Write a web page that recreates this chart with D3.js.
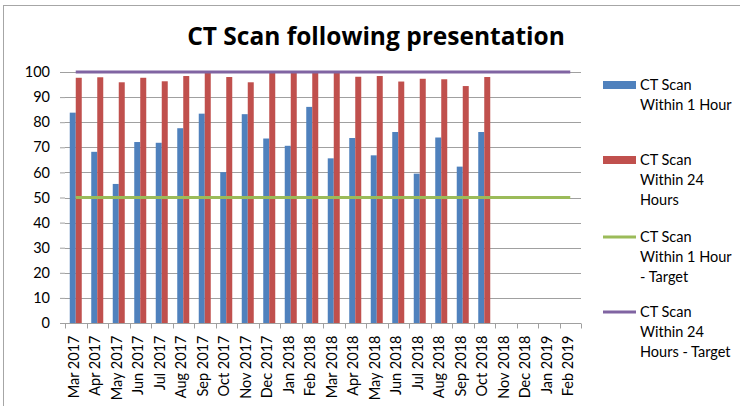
<!DOCTYPE html>
<html>
<head>
<meta charset="utf-8">
<script src="https://cdn.jsdelivr.net/npm/d3@7"></script>
<style>
  body { margin: 0; background: #fff; }
  text { font-family: Lato, "Liberation Sans", sans-serif; fill: #000; }
</style>
</head>
<body>
<div id="chart"></div>
<script>
var svgWidth = 740;
var svgHeight = 406;

// chart data
var months = ["Mar 2017", "Apr 2017", "May 2017", "Jun 2017", "Jul 2017", "Aug 2017",
    "Sep 2017", "Oct 2017", "Nov 2017", "Dec 2017", "Jan 2018", "Feb 2018",
    "Mar 2018", "Apr 2018", "May 2018", "Jun 2018", "Jul 2018", "Aug 2018",
    "Sep 2018", "Oct 2018", "Nov 2018", "Dec 2018", "Jan 2019", "Feb 2019"];
var within1Hour = [83.8, 68.2, 55.4, 72.1, 71.8, 77.6, 83.4, 60.1, 83.2, 73.5, 70.6, 86.1,
    65.6, 73.7, 66.8, 76.1, 59.5, 73.9, 62.3, 76.1, null, null, null, null];
var within24Hours = [97.7, 97.9, 95.9, 97.7, 96.3, 98.4, 100, 98.0, 95.9, 100, 100, 100,
    100, 98.1, 98.4, 96.2, 97.3, 97.1, 94.4, 98.0, null, null, null, null];
var target1Hour = [50, 50, 50, 50, 50, 50, 50, 50, 50, 50, 50, 50,
    50, 50, 50, 50, 50, 50, 50, 50, 50, 50, 50, 50];
var target24Hours = [100, 100, 100, 100, 100, 100, 100, 100, 100, 100, 100, 100,
    100, 100, 100, 100, 100, 100, 100, 100, 100, 100, 100, 100];
var yTicks = [0, 10, 20, 30, 40, 50, 60, 70, 80, 90, 100];

var legendItems = [
    {type: "bar", color: "#4f81bd", lines: ["CT Scan", "Within 1 Hour"]},
    {type: "bar", color: "#c0504d", lines: ["CT Scan", "Within 24", "Hours"]},
    {type: "line", color: "#9bbb59", lines: ["CT Scan", "Within 1 Hour", "- Target"]},
    {type: "line", color: "#8064a2", lines: ["CT Scan", "Within 24", "Hours - Target"]}
];

var plot = {left: 65, right: 581, top: 72, bottom: 323};

var svg = d3.select("#chart")
    .append("svg")
    .attr("width", svgWidth)
    .attr("height", svgHeight);

// outer frame
svg.append("rect")
    .attr("x", 3.5)
    .attr("y", 5.5)
    .attr("width", 800)
    .attr("height", 500)
    .attr("fill", "none")
    .attr("stroke", "#a6a6a6");

svg.append("text")
    .attr("x", 376)
    .attr("y", 45)
    .attr("text-anchor", "middle")
    .attr("font-size", "24.5px")
    .attr("font-weight", "bold")
    .style("font-family", "'Open Sans', sans-serif")
    .text("CT Scan following presentation");

var xScale = d3.scaleBand()
    .domain(months)
    .range([plot.left, plot.right]);

var yScale = d3.scaleLinear()
    .domain([0, 100])
    .range([plot.bottom, plot.top]);

var barWidth = 6;

// gridlines
svg.append("g")
    .selectAll("line")
    .data(yTicks.slice(1))
    .enter()
    .append("line")
    .attr("x1", plot.left)
    .attr("x2", plot.right)
    .attr("y1", d => Math.round(yScale(d)) + 0.5)
    .attr("y2", d => Math.round(yScale(d)) + 0.5)
    .attr("stroke", "#a0a0a0");

// y axis, no domain line
var yAxis = d3.axisLeft(yScale).tickValues(yTicks).tickSize(5).tickPadding(10);
var yG = svg.append("g")
    .attr("transform", `translate(${plot.left}, 0)`)
    .call(yAxis);
yG.select(".domain").remove();
yG.selectAll(".tick line").attr("stroke", "#a0a0a0");
yG.selectAll("text").attr("font-size", "14.5px").attr("font-family", "Lato, sans-serif").attr("fill", "#000");

// bars
svg.append("g")
    .selectAll("rect")
    .data(months.filter((m, i) => within1Hour[i] != null))
    .enter()
    .append("rect")
    .attr("x", d => xScale(d) + xScale.bandwidth() / 2 - barWidth)
    .attr("y", (d, i) => yScale(within1Hour[i]))
    .attr("width", barWidth)
    .attr("height", (d, i) => yScale(0) - yScale(within1Hour[i]))
    .attr("fill", "#4f81bd");

svg.append("g")
    .selectAll("rect")
    .data(months.filter((m, i) => within24Hours[i] != null))
    .enter()
    .append("rect")
    .attr("x", d => xScale(d) + xScale.bandwidth() / 2)
    .attr("y", (d, i) => yScale(within24Hours[i]))
    .attr("width", barWidth)
    .attr("height", (d, i) => yScale(0) - yScale(within24Hours[i]))
    .attr("fill", "#c0504d");

// target lines
var line = d3.line()
    .x((d, i) => xScale(months[i]) + xScale.bandwidth() / 2)
    .y(d => yScale(d));

svg.append("path")
    .datum(target1Hour)
    .attr("d", line)
    .attr("fill", "none")
    .attr("stroke", "#9bbb59")
    .attr("stroke-width", 3);

svg.append("path")
    .datum(target24Hours)
    .attr("d", line)
    .attr("fill", "none")
    .attr("stroke", "#8064a2")
    .attr("stroke-width", 3);

// x axis with ticks between categories
var xG = svg.append("g")
    .attr("transform", `translate(0, ${plot.bottom + 0.5})`);
xG.append("line")
    .attr("x1", plot.left)
    .attr("x2", plot.right)
    .attr("stroke", "#a0a0a0");
xG.selectAll(".xtick")
    .data(months.concat([null]))
    .enter()
    .append("line")
    .attr("class", "xtick")
    .attr("x1", (d, i) => Math.round(plot.left + i * xScale.step()) + 0.5)
    .attr("x2", (d, i) => Math.round(plot.left + i * xScale.step()) + 0.5)
    .attr("y1", 0)
    .attr("y2", 5)
    .attr("stroke", "#a0a0a0");
xG.selectAll(".xlabel")
    .data(months)
    .enter()
    .append("text")
    .attr("class", "xlabel")
    .attr("transform", d => `translate(${xScale(d) + xScale.bandwidth() / 2 + 3}, 12) rotate(-90)`)
    .attr("text-anchor", "end")
    .attr("font-size", "14.5px")
    .text(d => d);

// legend
var legendY = [85, 160, 237, 312];
legendItems.forEach(function(item, k) {
    var g = svg.append("g").attr("transform", `translate(603, ${legendY[k]})`);
    if (item.type === "bar") {
        g.append("rect")
            .attr("x", 0)
            .attr("y", -4)
            .attr("width", 33)
            .attr("height", 8)
            .attr("fill", item.color);
    } else {
        g.append("line")
            .attr("x1", 0)
            .attr("x2", 33)
            .attr("stroke", item.color)
            .attr("stroke-width", 3);
    }
    item.lines.forEach(function(t, j) {
        g.append("text")
            .attr("x", 37)
            .attr("y", 5 + j * 20)
            .attr("font-size", "14.5px")
            .text(t);
    });
});
</script>
</body>
</html>
